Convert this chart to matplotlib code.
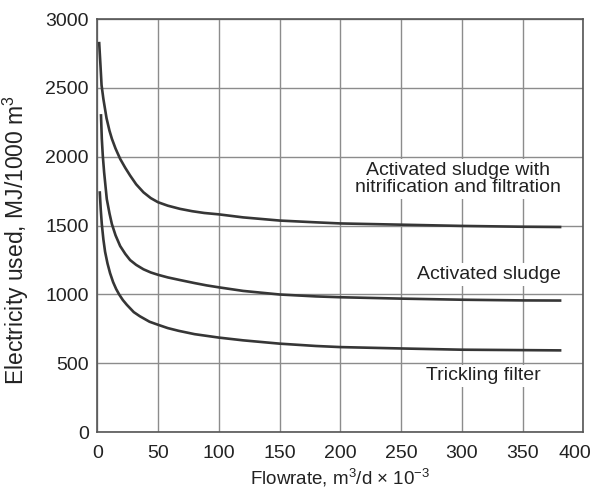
import matplotlib.pyplot as plt
import matplotlib.transforms as mtransforms

plt.rcParams['font.family'] = ['Liberation Sans', 'DejaVu Sans']
plt.rcParams['mathtext.fontset'] = 'custom'
plt.rcParams['mathtext.rm'] = 'Liberation Sans'
plt.rcParams['mathtext.it'] = 'Liberation Sans'
plt.rcParams['mathtext.default'] = 'regular'

# curves (flowrate, MJ/1000 m3)
nitr_x = [1.5, 2.5, 3.5, 5, 7.6, 10, 12, 15, 18.8, 23, 27, 32, 38, 44, 50, 58,
          68, 78, 88, 100, 120, 150, 180, 200, 250, 300, 350, 382]
nitr_y = [2835, 2680, 2520, 2420, 2280, 2190, 2131, 2060, 1985, 1920, 1864, 1800,
          1742, 1700, 1670, 1645, 1622, 1605, 1592, 1582, 1560, 1537, 1524, 1516,
          1507, 1498, 1492, 1490]

act_x = [3, 3.7, 4.5, 5.6, 7.8, 10, 12, 15, 18.8, 23, 27, 32, 38, 44, 50, 58,
         68, 80, 90, 100, 120, 150, 180, 200, 250, 300, 350, 382]
act_y = [2310, 2131, 2010, 1888, 1693, 1590, 1511, 1430, 1352, 1295, 1250, 1215,
         1183, 1160, 1143, 1124, 1105, 1083, 1066, 1052, 1026, 1000, 986, 980,
         970, 962, 957, 956]

trick_x = [2, 2.8, 3.7, 5, 6.4, 8.4, 10.5, 13, 15.5, 18, 21, 24.3, 30, 35, 43,
           50, 58, 67, 80, 100, 120, 150, 180, 200, 250, 300, 350, 382]
trick_y = [1750, 1620, 1511, 1400, 1310, 1225, 1155, 1090, 1040, 1000, 960, 925,
           872, 842, 802, 780, 756, 736, 712, 687, 667, 643, 626, 618, 608, 599,
           596, 594]

labels = ["Activated sludge with\nnitrification and filtration",
          "Activated sludge", "Trickling filter"]
label_pos = [(297, 1839), (322, 1146), (318, 410)]

fig = plt.figure(figsize=(5.97, 4.9), dpi=100)
ax = fig.add_axes([0.163, 0.118, 0.814, 0.843])

line_col = "#363636"
for xs, ys in [(nitr_x, nitr_y), (act_x, act_y), (trick_x, trick_y)]:
    ax.plot(xs, ys, color=line_col, lw=1.9, solid_capstyle="butt",
            solid_joinstyle="round", zorder=3)

for txt, (tx, ty) in zip(labels, label_pos):
    ax.text(tx, ty, txt, ha="center", va="center", fontsize=14, color="#222222",
            linespacing=1.05, zorder=4,
            bbox=dict(facecolor="white", edgecolor="none", pad=2))

ax.set_xlim(0, 400)
ax.set_ylim(0, 3000)
ax.set_xticks(range(0, 401, 50))
ax.set_yticks(range(0, 3001, 500))
ax.grid(color="#8c8c8c", lw=1.0)
ax.set_axisbelow(True)
ax.tick_params(length=0, labelsize=14, colors="#222222", pad=6)
ax.tick_params(axis="x", pad=9)
for s in ax.spines.values():
    s.set_color("#555555")
    s.set_linewidth(1.2)

# last x tick label sits a little left of its gridline, as in the original
last = ax.get_xticklabels()[-1]
last.set_transform(last.get_transform() +
                   mtransforms.ScaledTranslation(-8 / 100, 0, fig.dpi_scale_trans))

ax.set_xlabel(r"Flowrate, m$^3$/d $\times$ 10$^{-3}$", fontsize=13.5,
              color="#222222")
ax.xaxis.set_label_coords(0.5, -0.085)
ax.set_ylabel(r"Electricity used, MJ/1000 m$^3$", fontsize=16.5,
              color="#222222")
ax.yaxis.set_label_coords(-0.137, 0.465)

fig.savefig("out.png", dpi=100)
